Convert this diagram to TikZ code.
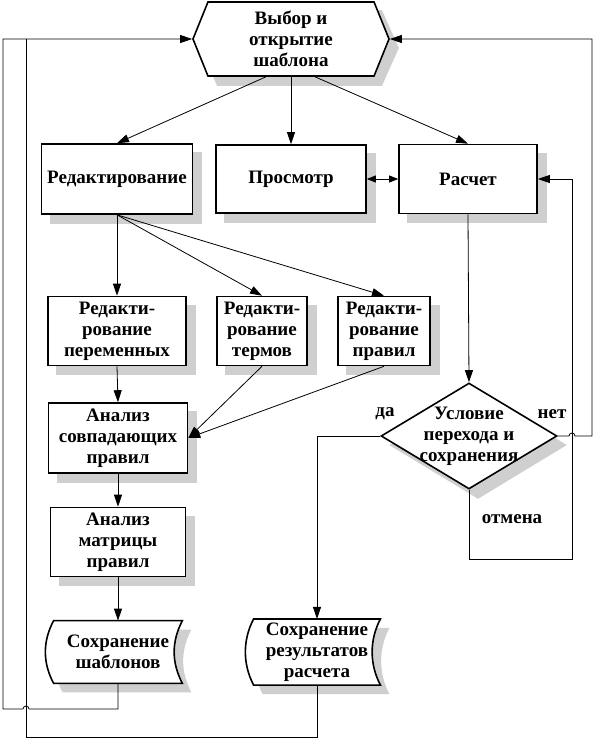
\documentclass[tikz,border=0pt]{standalone}
\usepackage{fontspec}
\setmainfont{Liberation Serif}
\usetikzlibrary{arrows.meta,shapes.geometric,shapes.symbols,backgrounds}

\tikzset{
  ten/.style={fill=black!19},
  sdvig/.style={shift={(9pt,-9pt)}},
  nadpis/.style={font=\fontsize{19}{21}\selectfont\bfseries,align=center},
  blok/.style={nadpis,draw,line width=1.6pt,fill=white,inner sep=2pt},
}

\begin{document}
\begin{tikzpicture}[x=1pt,y=-1pt,>={Triangle[length=12pt,width=8pt]},line width=0.8pt]
        \useasboundingbox (0,0) rectangle (594,740);
        % blocks
        \node[blok,signal,signal to=west and east,signal pointer angle=136,minimum width=196,minimum height=74] (vybor) at (291,39) {Выбор и\\открытие\\шаблона};
        \node[blok,minimum width=151,minimum height=70] (red) at (117,179) {Редактирование};
        \node[blok,minimum width=150,minimum height=68] (prosm) at (291,179) {Просмотр};
        \node[blok,minimum width=138,minimum height=69] (rasch) at (468,179) {Расчет};
        \node[blok,minimum width=138,minimum height=69] (redvar) at (117,331) {Редакти-\\рование\\переменных};
        \node[blok,minimum width=90,minimum height=69] (redterm) at (262,331) {Редакти-\\рование\\термов};
        \node[blok,minimum width=92,minimum height=69] (redrule) at (384,331) {Редакти-\\рование\\правил};
        \node[blok,minimum width=139,minimum height=70] (anal) at (118,438) {Анализ\\совпадающих\\правил};
        \node[blok,minimum width=135,minimum height=69] (matr) at (118,542) {Анализ\\матрицы\\правил};
        \node[blok,diamond,minimum width=176,minimum height=106,inner sep=0pt,
              label={[nadpis]center:Условие\\перехода и\\сохранения}] (cond) at (469,436) {};
        \node[nadpis,minimum width=128,minimum height=62] (savetpl) at (118,652) {Сохранение\\шаблонов};
        \node[nadpis,minimum width=126,minimum height=62] (saveres) at (317,652) {Сохранение\\результатов\\расчета};
        % shadows and stored data shapes
        \begin{scope}[on background layer]
            \foreach \n in {red,prosm,rasch,redvar,redterm,redrule,anal,matr}
                \fill[ten] ([sdvig]\n.south west) rectangle ([sdvig]\n.north east);
            \fill[ten] ([sdvig]cond.north) -- ([sdvig]cond.east) -- ([sdvig]cond.south) -- ([sdvig]cond.west) -- cycle;
            \fill[ten] ([xshift=-74pt,yshift=-9pt]vybor.north) -- ([xshift=91pt,yshift=-9pt]vybor.north) -- ([sdvig]vybor.east)
                -- ([xshift=91pt,yshift=-9pt]vybor.south) -- ([xshift=-74pt,yshift=-9pt]vybor.south) -- ([sdvig]vybor.west) -- cycle;
            \foreach \n in {savetpl,saveres} {
                \fill[ten] ([sdvig]\n.north west) -- ([sdvig]\n.north east)
                    .. controls +(-11,21) and +(-11,-21) .. ([sdvig]\n.south east) -- ([sdvig]\n.south west)
                    .. controls +(-11,-21) and +(-11,21) .. ([sdvig]\n.north west) -- cycle;
                \draw[line width=1.6pt,fill=white] (\n.north west) -- (\n.north east)
                    .. controls +(-11,21) and +(-11,-21) .. (\n.south east) -- (\n.south west)
                    .. controls +(-11,-21) and +(-11,21) .. (\n.north west) -- cycle;
            }
        \end{scope}
        % labels
        \node[nadpis] (da) at (385,414) {да};
        \node[nadpis] (net) at (552,414) {нет};
        \node[nadpis] (otmena) at (512,519) {отмена};
        % connectors
        \draw[->] ([xshift=-25pt]vybor.south) -- (red.north);
        \draw[->] (vybor.south) -- (prosm.north);
        \draw[->] ([xshift=24pt]vybor.south) -- (rasch.north);
        \draw[<->,>={Triangle[length=9pt,width=7pt]}] (prosm.east) -- (rasch.west);
        \foreach \n in {redvar,redterm,redrule}
            \draw[->] (red.south) -- (\n.north);
        \draw[->] (redvar.south) -- (anal.north);
        \draw[->] (redterm.south) -- (anal.east);
        \draw[->] (redrule.south) -- (anal.east);
        \draw[->] (anal.south) -- (matr.north);
        \draw[->] (matr.south) -- (savetpl.north);
        \draw[->] (rasch.south) -- (cond.north);
        \draw[->] (cond.west) -| (saveres.north);
        \coordinate (otm) at (572,559);
        \draw[->] (cond.south) |- (otm) |- (rasch.east);
        \coordinate (hop1) at (572,436);
        \coordinate (netr) at (592,436);
        \draw[->] (cond.east) -- ([xshift=-3pt]hop1) arc[start angle=180,end angle=0,radius=3pt] -- (netr) |- (vybor.east);
        \coordinate (hop2) at (26,709);
        \coordinate (levo) at (3,709);
        \draw[->] (savetpl.south) |- ([xshift=3pt]hop2) arc[start angle=0,end angle=180,radius=3pt] -- (levo) |- (vybor.west);
        \coordinate (vozvr) at (26,737);
        \draw (saveres.south) |- (vozvr) -- (26,39);
\end{tikzpicture}
\end{document}
